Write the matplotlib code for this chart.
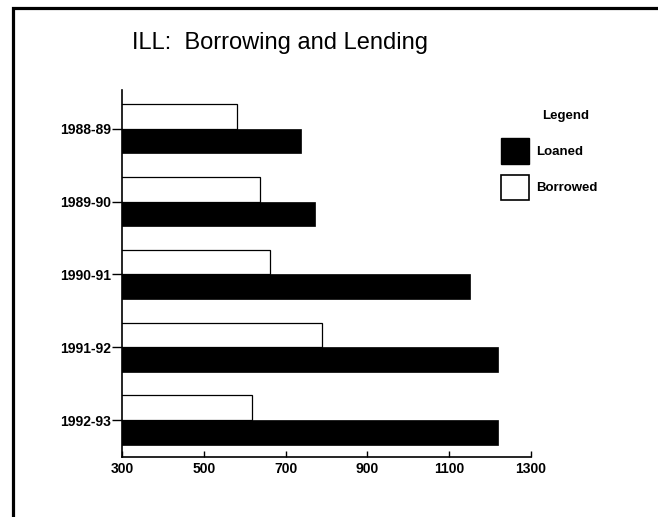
import matplotlib
matplotlib.use("Agg")
import matplotlib.pyplot as plt
from matplotlib.patches import Patch, Rectangle

# datos del grafico de prestamo interbibliotecario
anios = ["1988-89", "1989-90", "1990-91", "1991-92", "1992-93"]
prestados = [737, 772, 1152, 1220, 1220]   # Loaned
pedidos = [580, 637, 663, 790, 617]        # Borrowed
ticks_x = [300, 500, 700, 900, 1100, 1300]

plt.rcParams['font.family'] = ['Liberation Sans', 'DejaVu Sans']

fig = plt.figure(figsize=(6.58, 5.17), dpi=100)
ax = fig.add_axes([0.1854, 0.1166, 0.6216, 0.7094])

pos = list(range(len(anios)))
alto = 0.34
ax.barh([p - alto / 2 for p in pos], pedidos, height=alto, color='white',
        edgecolor='black', linewidth=0.9, label='Borrowed')
ax.barh([p + alto / 2 for p in pos], prestados, height=alto, color='black',
        edgecolor='black', linewidth=0.5, label='Loaned')

ax.set_xlim(300, 1300)
ax.set_ylim(4.5, -0.53)
ax.set_xticks(ticks_x)
ax.set_xticklabels([str(t) for t in ticks_x], fontsize=10, fontweight='bold')
ax.set_yticks(pos)
ax.set_yticklabels(anios, fontsize=10, fontweight='bold')
ax.tick_params(axis='x', direction='in', length=4, width=1, pad=4)
ax.tick_params(axis='y', direction='out', length=7, width=1, pad=1)

for lado in ['top', 'right']:
    ax.spines[lado].set_visible(False)
for lado in ['left', 'bottom']:
    ax.spines[lado].set_linewidth(1.2)

fig.text(0.426, 0.916, "ILL:  Borrowing and Lending", ha='center', va='center',
         fontsize=17)

# leyenda a la derecha, con su titulo aparte
fig.text(0.859, 0.776, "Legend", ha='center', va='center', fontsize=9.5,
         fontweight='bold')
manejadores = [Patch(facecolor='black', edgecolor='black', label='Loaned'),
               Patch(facecolor='white', edgecolor='black', linewidth=1.2, label='Borrowed')]
leg = fig.legend(handles=manejadores, loc='upper left', bbox_to_anchor=(0.752, 0.745),
                 frameon=False, fontsize=9.5, handlelength=2.1,
                 handleheight=2.6, labelspacing=0.8, handletextpad=0.5, borderpad=0.0)
for t in leg.get_texts():
    t.set_fontweight('bold')

# marco exterior
fig.add_artist(Rectangle((0.019, -0.1), 1.2, 1.0836, transform=fig.transFigure,
                         fill=False, edgecolor='black', linewidth=2.3))

fig.savefig("out.png", dpi=100)
